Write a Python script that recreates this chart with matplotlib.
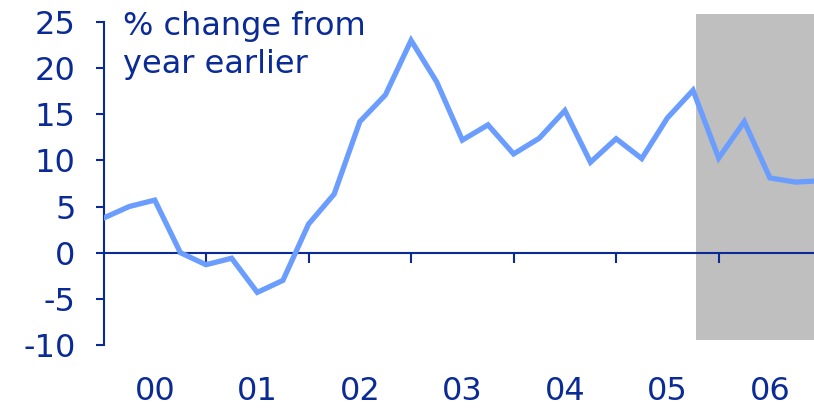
import matplotlib.pyplot as plt
import numpy as np

# quarterly % change from year earlier, 2000 Q1 onwards
values = [3.75, 5.0, 5.7, 0.0, -1.3, -0.6, -4.3, -3.0,
          3.1, 6.35, 14.2, 17.1, 23.0, 18.5, 12.2, 13.85,
          10.7, 12.4, 15.4, 9.8, 12.35, 10.2, 14.6, 17.6,
          10.25, 14.2, 8.1, 7.65, 7.8]
year_labels = ['00', '01', '02', '03', '04', '05', '06']
shade_start = 23.1
shade_top = 25.9
shade_bottom = -9.5

navy = '#0A2A96'
line_blue = '#6B9DFF'

plt.rcParams['axes.unicode_minus'] = False

x = np.arange(len(values))

fig = plt.figure(figsize=(8.14, 4.09), dpi=100)
ax = fig.add_axes([103.5 / 814, 64 / 409, 1 - 103.5 / 814, 0.8237])

ax.fill_between([shade_start, 30], shade_bottom, shade_top, color='#BFBFBF', lw=0, zorder=0)
ax.plot(x, values, color=line_blue, lw=3.8, solid_joinstyle='miter', zorder=3)

ax.set_xlim(0, 27.72)
ax.set_ylim(-10, 26.5)

for s in ['top', 'right']:
    ax.spines[s].set_visible(False)
ax.spines['left'].set_bounds(-10, 25)
ax.spines['bottom'].set_position(('data', 0))
for s in ['left', 'bottom']:
    ax.spines[s].set_color(navy)
    ax.spines[s].set_linewidth(1.5)
    ax.spines[s].set_zorder(2)

ax.set_yticks(np.arange(-10, 30, 5))
ax.tick_params(axis='y', direction='out', length=6, width=1.5, color=navy,
               labelcolor=navy, labelsize=23, pad=14)

ax.set_xticks(np.arange(len(year_labels)) * 4 + 2)
ax.set_xticklabels(year_labels)
ax.set_xticks(np.arange(1, len(year_labels)) * 4, minor=True)
ax.tick_params(axis='x', which='major', length=0, labelcolor=navy, labelsize=23, pad=89)
ax.tick_params(axis='x', which='minor', direction='out', length=7, width=1.5, color=navy)

ax.text(0.027, 0.99, '% change from\nyear earlier', transform=ax.transAxes,
        color=navy, fontsize=23, va='top', ha='left', linespacing=1.28)

fig.savefig('out.png', dpi=100)
